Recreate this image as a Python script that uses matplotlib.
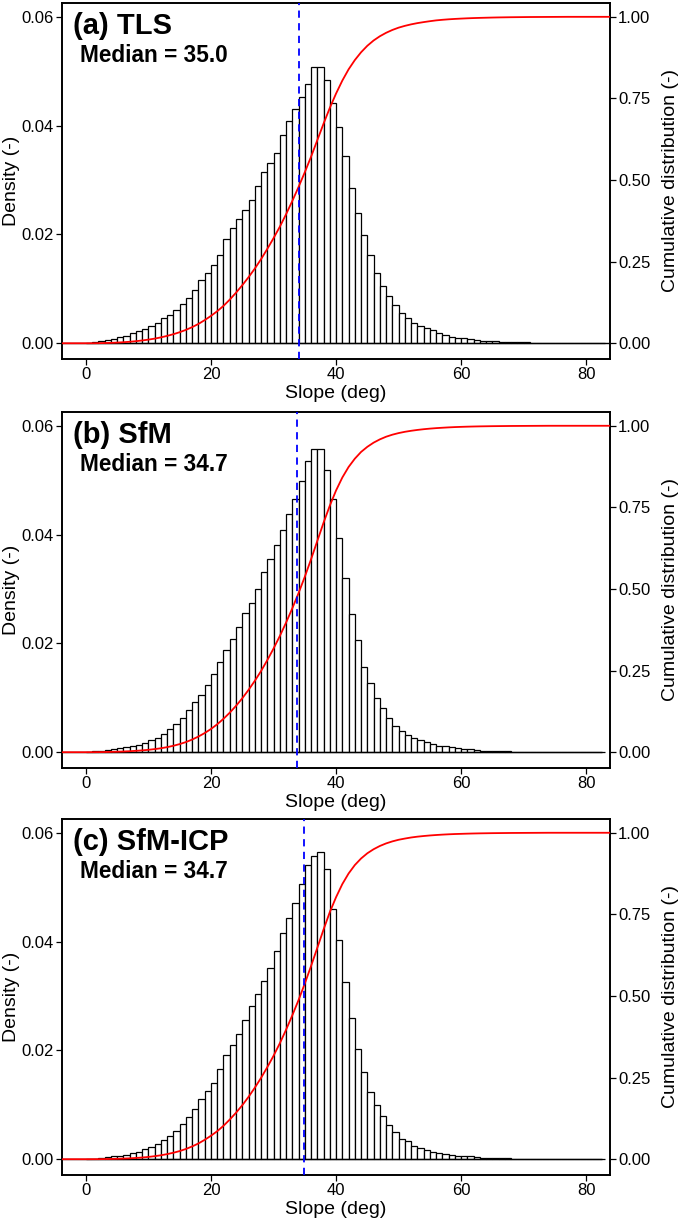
import matplotlib.pyplot as plt
import numpy as np

plt.rcParams['font.family'] = ['Liberation Sans', 'DejaVu Sans']

# slope bins, 1 degree wide, 0..83 deg
bin_left = np.arange(0, 83)

# density
dens_tls = [0.0001, 0.0002, 0.0004, 0.0006, 0.0008, 0.0011, 0.0014, 0.0018, 0.0022, 0.0026,
            0.0031, 0.0038, 0.0046, 0.0052, 0.0061, 0.0072, 0.0084, 0.0098, 0.0117, 0.0129,
            0.0144, 0.0163, 0.0192, 0.0212, 0.0229, 0.0245, 0.0264, 0.0289, 0.0315, 0.0331,
            0.0349, 0.0382, 0.0409, 0.0430, 0.0452, 0.0476, 0.0508, 0.0508, 0.0483, 0.0441,
            0.0397, 0.0344, 0.0285, 0.0240, 0.0199, 0.0162, 0.0130, 0.0106, 0.0087, 0.0071,
            0.0055, 0.0046, 0.0038, 0.0031, 0.0028, 0.0025, 0.0018, 0.0015, 0.0012, 0.0010,
            0.0009, 0.0007, 0.0006, 0.0005, 0.0005, 0.0004, 0.0003, 0.0003, 0.0002, 0.0002,
            0.0002, 0.0001, 0.0001, 0.0001, 0.0001, 0.0001, 0.0001, 0.0, 0.0, 0.0,
            0.0, 0.0, 0.0]

dens_sfm = [0.0001, 0.0002, 0.0003, 0.0004, 0.0005, 0.0007, 0.0009, 0.0011, 0.0014, 0.0017,
            0.0022, 0.0026, 0.0034, 0.0042, 0.0051, 0.0062, 0.0077, 0.0092, 0.0106, 0.0124,
            0.0144, 0.0166, 0.0187, 0.0208, 0.0230, 0.0256, 0.0275, 0.0300, 0.0332, 0.0355,
            0.0380, 0.0409, 0.0438, 0.0465, 0.0498, 0.0535, 0.0558, 0.0558, 0.0519, 0.0465,
            0.0394, 0.0321, 0.0254, 0.0206, 0.0156, 0.0127, 0.0100, 0.0081, 0.0062, 0.0049,
            0.0039, 0.0031, 0.0026, 0.0022, 0.0018, 0.0015, 0.0012, 0.0011, 0.0009, 0.0007,
            0.0006, 0.0005, 0.0004, 0.0003, 0.0003, 0.0002, 0.0002, 0.0002, 0.0001, 0.0001,
            0.0001, 0.0001, 0.0001, 0.0001, 0.0, 0.0, 0.0, 0.0, 0.0, 0.0,
            0.0, 0.0, 0.0]

dens_icp = [0.0001, 0.0001, 0.0002, 0.0004, 0.0005, 0.0006, 0.0008, 0.0011, 0.0014, 0.0018,
            0.0023, 0.0028, 0.0036, 0.0042, 0.0051, 0.0065, 0.0078, 0.0092, 0.0111, 0.0125,
            0.0140, 0.0165, 0.0192, 0.0209, 0.0230, 0.0256, 0.0281, 0.0303, 0.0328, 0.0351,
            0.0382, 0.0416, 0.0444, 0.0471, 0.0505, 0.0540, 0.0558, 0.0565, 0.0534, 0.0459,
            0.0402, 0.0325, 0.0260, 0.0202, 0.0160, 0.0124, 0.0100, 0.0079, 0.0062, 0.0050,
            0.0037, 0.0033, 0.0025, 0.0020, 0.0017, 0.0014, 0.0012, 0.0010, 0.0008, 0.0006,
            0.0006, 0.0005, 0.0004, 0.0003, 0.0003, 0.0002, 0.0002, 0.0002, 0.0001, 0.0001,
            0.0001, 0.0001, 0.0001, 0.0001, 0.0, 0.0, 0.0, 0.0, 0.0, 0.0,
            0.0, 0.0, 0.0]

titles = ["(a) TLS", "(b) SfM", "(c) SfM-ICP"]
median_text = ["35.0", "34.7", "34.7"]
median_line = [34.0, 33.8, 34.8]   # where the dashed line sits in the figure
base_end = [83.8, 82.6, 82.6]

XLIM = (-3.9, 83.8)
YLIM = (-0.0029, 0.0626)


def panel(ax, dens, title, med, med_x, bend):
    """Histogram + cumulative curve for one data set"""
    dens = np.array(dens)
    ax.bar(bin_left, dens, width=1, align='edge', color='white',
           edgecolor='black', linewidth=0.9, zorder=2)
    ax.hlines(0, XLIM[0], bend, color='black', linewidth=1.0, zorder=3)
    ax.set_xlim(XLIM)
    ax.set_ylim(YLIM)
    ax.set_xticks([0, 20, 40, 60, 80])
    ax.set_yticks([0, 0.02, 0.04, 0.06])
    ax.set_yticklabels(["0.00", "0.02", "0.04", "0.06"])
    ax.set_xlabel("Slope (deg)", fontsize=14, labelpad=2)
    ax.set_ylabel("Density (-)", fontsize=14, labelpad=1)
    ax.tick_params(direction='out', length=4.3, width=0.9, labelsize=12, pad=1.5)

    # cumulative distribution from the histogram
    cdf = np.cumsum(dens) / dens.sum()
    cx = np.concatenate([[XLIM[0], 0], bin_left + 1, [XLIM[1]]])
    cy = np.concatenate([[0, 0], cdf, [1]])

    ax2 = ax.twinx()
    ax2.plot(cx, cy, color='red', linewidth=1.3, zorder=4)
    ax2.axvline(med_x, color='blue', linestyle=(0, (4, 3)), linewidth=1.3, zorder=5)
    ax2.set_ylim(YLIM[0] / 0.06, YLIM[1] / 0.06)
    ax2.set_yticks([0, 0.25, 0.5, 0.75, 1.0])
    ax2.set_yticklabels(["0.00", "0.25", "0.50", "0.75", "1.00"])
    ax2.set_ylabel("Cumulative distribution (-)", fontsize=14, labelpad=8)
    ax2.tick_params(direction='out', length=4.3, width=0.9, labelsize=12, pad=1.5)
    for a in (ax, ax2):
        for s in a.spines.values():
            s.set_linewidth(1.2)

    ax.text(0.021, 0.913, title, transform=ax.transAxes, fontsize=21,
            fontweight='bold', va='baseline', ha='left', zorder=6)
    ax.text(0.034, 0.834, "Median = " + med, transform=ax.transAxes, fontsize=16.3,
            fontweight='bold', va='baseline', ha='left', zorder=6)


fig = plt.figure(figsize=(6.85, 12.2), dpi=100)
bottoms = [0.7057, 0.3705, 0.0369]
data = [dens_tls, dens_sfm, dens_icp]
for i in range(3):
    ax = fig.add_axes([0.0898, bottoms[i], 0.8007, 0.2921])
    panel(ax, data[i], titles[i], median_text[i], median_line[i], base_end[i])

fig.savefig("out.png", dpi=100)
plt.close()
